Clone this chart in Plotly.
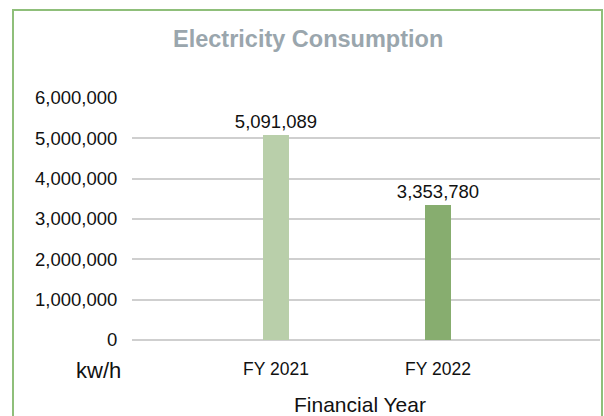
import plotly.graph_objects as go

categories = ["FY 2021", "FY 2022"]
values = [5091089, 3353780]
bar_colors = ["#b9cfaa", "#87ad6f"]
y_ticks = [0, 1000000, 2000000, 3000000, 4000000, 5000000, 6000000]
title_text = "Electricity Consumption"
unit_label = "kw/h"
x_title = "Financial Year"

W, H = 604, 416
L, R, T, B = 132, 4, 98, 76
pw = W - L - R
ph = H - T - B

def px(x):
    return (x - L) / pw

def py(y):
    return (H - B - y) / ph

font = "Liberation Sans, Arial, sans-serif"

fig = go.Figure()
fig.add_trace(go.Bar(
    x=list(range(len(categories))),
    y=values,
    marker=dict(color=bar_colors, line=dict(width=0)),
    width=0.16,
    text=[f"{v:,}" for v in values],
    textposition="outside",
    constraintext="none",
    textfont=dict(family=font, size=18.5, color="#111111"),
    cliponaxis=False,
))

fig.update_layout(
    width=W, height=H,
    margin=dict(l=L, r=R, t=T, b=B),
    paper_bgcolor="white", plot_bgcolor="white",
    showlegend=False,
    bargap=0,
    xaxis=dict(
        range=[-0.889, 2.0],
        tickmode="array",
        tickvals=list(range(len(categories))),
        ticktext=categories,
        tickfont=dict(family=font, size=17.5, color="#111111"),
        ticks="outside", ticklen=13, tickcolor="rgba(0,0,0,0)",
        showgrid=False, zeroline=False, showline=False,
    ),
    yaxis=dict(
        range=[0, 6000000],
        tickmode="array",
        tickvals=y_ticks,
        ticktext=[f"{v:,}" for v in y_ticks],
        tickfont=dict(family=font, size=18.5, color="#111111"),
        ticks="outside", ticklen=10, tickcolor="rgba(0,0,0,0)",
        showgrid=True, gridcolor="#cfcfcf", gridwidth=1.5,
        zeroline=True, zerolinecolor="#cfcfcf", zerolinewidth=1.5,
        showline=False,
    ),
    shapes=[dict(
        type="rect", xref="paper", yref="paper",
        x0=px(13), x1=px(602), y0=py(440), y1=py(10),
        line=dict(color="#8fbf7a", width=2), fillcolor="rgba(0,0,0,0)",
        layer="below",
    )],
    annotations=[
        dict(text=f"<b>{title_text}</b>", xref="paper", yref="paper",
             x=px(308), y=py(39), xanchor="center", yanchor="middle",
             showarrow=False, font=dict(family=font, size=23.5, color="#9aa6ad")),
        dict(text=unit_label, xref="paper", yref="paper",
             x=px(123), y=py(370), xanchor="right", yanchor="middle",
             showarrow=False, font=dict(family=font, size=22, color="#111111")),
        dict(text=x_title, xref="paper", yref="paper",
             x=px(360), y=py(404), xanchor="center", yanchor="middle",
             showarrow=False, font=dict(family=font, size=21, color="#111111")),
    ],
)

fig.write_html("out.html")
